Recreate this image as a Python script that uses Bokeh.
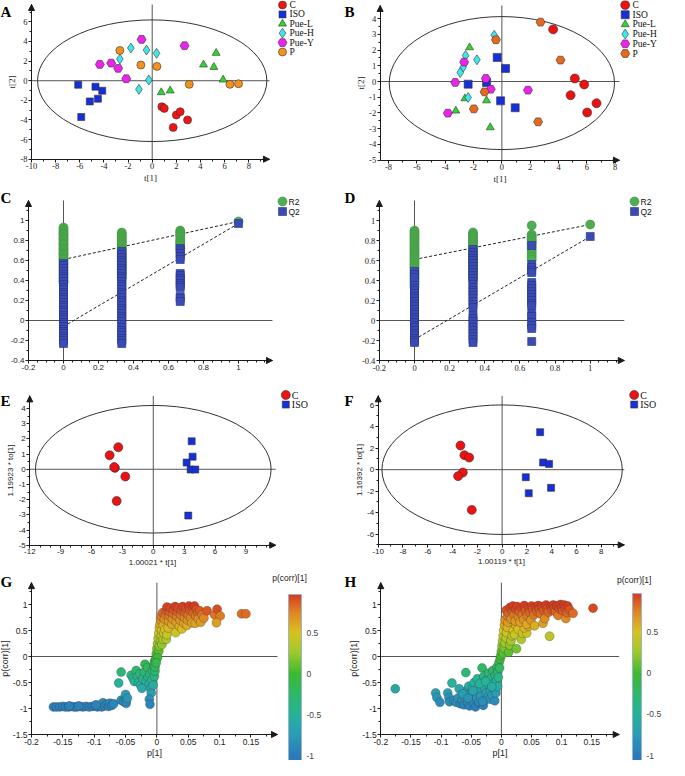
import numpy as np
from bokeh.plotting import figure
from bokeh.models import (Range1d, Arrow, NormalHead, Label,
                          FixedTicker, CustomJSTickFormatter, ColorBar, LinearColorMapper,
                          ColumnDataSource)
from bokeh.core.properties import value
from bokeh.layouts import row, column
from bokeh.embed import file_html
from bokeh.resources import INLINE

SERIF = "Liberation Serif"
SANS = "Liberation Sans"

# ---------------- data ----------------
group_names = ["C", "ISO", "Pue-L", "Pue-H", "Pue-Y", "P"]

# Panel A (PCA scores)
a_c_x = [0.80, 1.00, 2.00, 2.32, 2.93, 1.74]
a_c_y = [-2.65, -2.82, -3.50, -3.16, -4.00, -4.76]
a_iso_x = [-6.13, -4.70, -4.14, -4.50, -5.17, -5.88]
a_iso_y = [-0.41, -0.61, -1.02, -1.83, -2.11, -3.70]
a_puel_x = [0.75, 1.49, 4.25, 5.11, 5.30, 5.88]
a_puel_y = [-1.19, -1.02, 1.63, 1.39, 2.82, 0.10]
a_pueh_x = [-1.77, -0.47, 0.36, -2.68, -0.28, -1.10]
a_pueh_y = [3.33, 3.13, 2.79, 2.21, 0.07, -0.88]
a_puey_x = [-0.88, 2.68, -4.34, -3.40, -2.82, -2.15]
a_puey_y = [4.21, 3.57, 1.66, 1.80, 1.26, 0.20]
a_p_x = [-2.68, -0.94, 0.39, 3.07, 6.44, 7.15]
a_p_y = [3.09, 1.60, 1.46, -0.37, -0.37, -0.31]
a_ellipse = [0.0, 0.0, 19.0, 12.4]

# Panel B
b_c_x = [3.62, 5.15, 5.81, 4.85, 6.68, 6.02]
b_c_y = [3.31, 0.19, -0.19, -0.87, -1.38, -1.97]
b_iso_x = [-0.33, 0.26, -2.38, -1.08, -0.09, 0.94]
b_iso_y = [1.53, 0.83, -0.17, -0.06, -1.23, -1.67]
b_puel_x = [-2.28, -2.61, -1.08, -3.25, -0.82]
b_puel_y = [2.16, -1.08, -1.21, -1.86, -2.92]
b_pueh_x = [-0.54, -2.56, -1.76, -2.73, -2.94, -2.38]
b_pueh_y = [2.94, 1.65, 1.38, 0.91, 0.57, -1.02]
b_puey_x = [-2.66, -1.13, -3.29, -0.78, 1.84, -3.81]
b_puey_y = [1.23, 0.19, -0.06, -0.49, -0.55, -2.01]
b_p_x = [2.73, -0.42, 4.14, -1.22, -1.98, 2.56]
b_p_y = [3.77, 2.65, 1.36, -0.66, -1.74, -2.56]
b_ellipse = [0.0, -0.1, 15.9, 8.45]

# Panel C (permutation test)
perm_levels = [0.0, 0.333, 0.667, 1.0]
c_r2_0 = [0.93, 0.91, 0.89, 0.87, 0.86, 0.84, 0.82, 0.81, 0.79, 0.77, 0.76, 0.74, 0.72, 0.71, 0.69, 0.67,
          0.66, 0.64, 0.62, 0.61, 0.59, 0.57, 0.55, 0.53, 0.51, 0.49, 0.47, 0.45, 0.43, 0.41, 0.39, 0.38]
c_r2_1 = [0.88, 0.86, 0.84, 0.82, 0.80, 0.78, 0.76, 0.74, 0.72, 0.70, 0.68, 0.66, 0.64, 0.62, 0.60, 0.58,
          0.56, 0.54, 0.52, 0.50, 0.48, 0.46, 0.43]
c_r2_2 = [0.90, 0.88, 0.86, 0.84, 0.81, 0.79, 0.77, 0.75, 0.72]
c_r2_3 = [0.99]
c_q2_0 = [0.57, 0.55, 0.52, 0.49, 0.46, 0.44, 0.42, 0.39, 0.36, 0.33, 0.31, 0.28, 0.26, 0.23, 0.21, 0.18,
          0.15, 0.13, 0.10, 0.08, 0.05, 0.03, 0.01, -0.02, -0.04, -0.06, -0.09, -0.11, -0.13, -0.16, -0.18,
          -0.20, -0.23]
c_q2_1 = [0.69, 0.66, 0.63, 0.60, 0.58, 0.55, 0.52, 0.50, 0.47, 0.44, 0.42, 0.39, 0.36, 0.34, 0.31, 0.28,
          0.26, 0.23, 0.20, 0.18, 0.15, 0.12, 0.10, 0.07, 0.04, 0.02, -0.01, -0.04, -0.07, -0.10, -0.12,
          -0.15, -0.18, -0.20, -0.23]
c_q2_2 = [0.72, 0.70, 0.67, 0.64, 0.61, 0.47, 0.45, 0.42, 0.40, 0.37, 0.35, 0.33, 0.24, 0.22, 0.19]
c_q2_3 = [0.97]
c_line_x = [0.0, 1.0]
c_r2_line = [0.61, 0.99]
c_q2_line = [-0.06, 0.97]

# Panel D
d_r2_0 = [0.90, 0.88, 0.86, 0.84, 0.82, 0.80, 0.78, 0.76, 0.74, 0.72, 0.70, 0.68, 0.66, 0.64, 0.62, 0.60,
          0.58, 0.56, 0.54, 0.52, 0.50, 0.48, 0.46, 0.44, 0.42, 0.40, 0.38, 0.36, 0.33]
d_r2_1 = [0.88, 0.86, 0.84, 0.82, 0.80, 0.78, 0.76, 0.74, 0.72, 0.70, 0.68, 0.66, 0.64, 0.62, 0.60, 0.58,
          0.56, 0.54, 0.52, 0.50, 0.48, 0.46, 0.44, 0.41]
d_r2_2 = [0.95, 0.86, 0.84, 0.82, 0.80, 0.78, 0.76, 0.73, 0.70, 0.67, 0.64, 0.61]
d_r2_3 = [0.96]
d_q2_0 = [0.49, 0.46, 0.43, 0.35, 0.32, 0.30, 0.27, 0.24, 0.22, 0.19, 0.16, 0.14, 0.11, 0.08, 0.06, 0.03,
          0.01, -0.02, -0.05, -0.07, -0.10, -0.13, -0.15, -0.18, -0.20, -0.22]
d_q2_1 = [0.71, 0.68, 0.65, 0.62, 0.60, 0.57, 0.54, 0.51, 0.48, 0.45, 0.42, 0.39, 0.36, 0.33, 0.30, 0.28,
          0.25, 0.22, 0.19, 0.16, 0.13, 0.05, 0.02, -0.01, -0.04, -0.07, -0.10, -0.13, -0.16, -0.19, -0.22]
d_q2_2 = [0.75, 0.56, 0.53, 0.50, 0.48, 0.38, 0.35, 0.32, 0.29, 0.26, 0.23, 0.20, 0.17, 0.15, 0.07, 0.04,
          -0.02, -0.05, -0.08, -0.21]
d_q2_3 = [0.84]
d_r2_line = [0.61, 0.96]
d_q2_line = [-0.19, 0.84]

# Panel E (OPLS-DA scores)
e_c_x = [-3.40, -4.24, -3.73, -3.80, -2.72, -3.56]
e_c_y = [1.45, 0.92, 0.09, 0.14, -0.48, -2.09]
e_iso_x = [3.73, 3.82, 3.24, 3.63, 4.08, 3.40]
e_iso_y = [1.84, 0.83, 0.44, -0.02, -0.02, -3.05]
e_ellipse = [0.0, 0.0, 22.9, 8.4]

# Panel F
f_c_x = [-3.36, -3.04, -2.66, -3.17, -3.55, -2.45]
f_c_y = [2.25, 1.35, 1.13, -0.26, -0.60, -3.74]
f_iso_x = [3.07, 3.31, 3.79, 1.91, 2.15, 3.95]
f_iso_y = [3.49, 0.67, 0.54, -0.70, -2.19, -1.69]
f_ellipse = [0.0, 0.0, 19.4, 12.05]

# Panel G (S-plot)
g_p1 = [
    -0.165, -0.160, -0.155, -0.150, -0.146, -0.141, -0.137, -0.132, -0.128, -0.123, -0.118, -0.113, -0.108, -0.103,
    -0.099, -0.095, -0.091, -0.088, -0.086, -0.083, -0.080, -0.077, -0.075, -0.072, -0.069, -0.125, -0.140, -0.097,
    -0.061, -0.057, -0.057, -0.053, -0.050, -0.049, -0.049, -0.047,
    -0.041, -0.038, -0.036, -0.033, -0.031, -0.029, -0.027, -0.026, -0.024, -0.022, -0.020, -0.019, -0.017, -0.015,
    -0.014, -0.012, -0.011, -0.010, -0.009, -0.012, -0.011, -0.008, -0.007, -0.006, -0.005, -0.004, -0.004, -0.003,
    -0.002, -0.003,
    -0.001, 0.000, 0.001, 0.002, 0.003, 0.004, 0.005, 0.006, 0.003, 0.004, 0.006, 0.007, 0.008, 0.010, 0.008,
    0.010, 0.011, 0.013, 0.015, 0.016, 0.018, 0.007, 0.009, 0.001, -0.001,
    0.012, 0.014, 0.015, 0.016, 0.019, 0.020, 0.021, 0.022, 0.024, 0.025, 0.026, 0.027, 0.029, 0.030, 0.031, 0.032,
    0.033, 0.034, 0.036, 0.037, 0.038, 0.039, 0.040, 0.041, 0.043, 0.044, 0.045, 0.046, 0.048, 0.049, 0.050, 0.051,
    0.053, 0.054, 0.056, 0.057, 0.058, 0.060, 0.061, 0.062, 0.063, 0.065, 0.066, 0.068, 0.070, 0.072, 0.075, 0.080,
    0.092, 0.096, 0.101, 0.095, 0.135, 0.142]
g_pcorr = [
    -0.97, -0.97, -0.97, -0.96, -0.97, -0.97, -0.96, -0.97, -0.97, -0.96, -0.97, -0.96, -0.97, -0.96,
    -0.95, -0.97, -0.94, -0.97, -0.89, -0.95, -0.92, -0.96, -0.90, -0.94, -0.91, -0.95, -0.95, -0.93,
    -0.51, -0.30, -0.84, -0.87, -0.73, -0.85, -0.90, -0.80,
    -0.36, -0.42, -0.48, -0.27, -0.39, -0.50, -0.33, -0.55, -0.61, -0.43, -0.30, -0.15, -0.47, -0.21,
    -0.40, -0.52, -0.34, -0.62, -0.70, -0.82, -0.92, -0.45, -0.27, -0.55, -0.18, -0.38, -0.10, -0.28,
    -0.05, -0.20,
    0.05, 0.15, 0.25, 0.35, 0.45, 0.55, 0.62, 0.70, 0.10, 0.20, 0.30, 0.40, 0.50, 0.60, 0.23,
    0.33, 0.45, 0.52, 0.33, 0.42, 0.55, 0.77, 0.84, -0.02, -0.12,
    0.72, 0.80, 0.88, 0.95, 0.68, 0.78, 0.86, 0.93, 0.62, 0.72, 0.82, 0.90, 0.96, 0.46, 0.66, 0.77,
    0.86, 0.93, 0.58, 0.70, 0.80, 0.89, 0.53, 0.96, 0.64, 0.75, 0.85, 0.92, 0.60, 0.70, 0.80, 0.97,
    0.88, 0.74, 0.65, 0.93, 0.84, 0.97, 0.64, 0.78, 0.90, 0.84, 0.72, 0.88, 0.66, 0.80, 0.74, 0.88,
    0.80, 0.91, 0.78, 0.65, 0.82, 0.82]

# Panel H (S-plot)
h_p1 = [
    -0.176, -0.109, -0.107, -0.102, -0.089, -0.087, -0.082, -0.086, -0.079, -0.075, -0.072, -0.068, -0.065, -0.062,
    -0.060, -0.059, -0.058, -0.056, -0.054, -0.053,
    -0.051, -0.050, -0.048, -0.046, -0.045, -0.043, -0.042, -0.041, -0.040, -0.038, -0.037, -0.035, -0.034, -0.032,
    -0.032, -0.030, -0.029, -0.028, -0.027, -0.025,
    -0.024, -0.022, -0.021, -0.020, -0.019, -0.018, -0.017, -0.015, -0.014, -0.013, -0.012, -0.011, -0.010, -0.009,
    -0.008, -0.007, -0.006, -0.006, -0.005, -0.004, -0.003, -0.002,
    -0.070, -0.064, -0.047, -0.036, -0.026, -0.016, -0.031, -0.055,
    -0.001, 0.000, 0.001, 0.002, 0.003, 0.004, 0.005, 0.006, 0.003, 0.005, 0.006, 0.008, 0.009, 0.010, 0.011,
    0.012, 0.014, 0.016, 0.018, 0.020, 0.022, 0.025, 0.024, 0.028, 0.033, 0.035, 0.042, 0.038, 0.045,
    0.008, 0.010, 0.012, 0.014, 0.016, 0.018, 0.019, 0.021, 0.023, 0.024,
    0.026, 0.028, 0.030, 0.031, 0.033, 0.035, 0.037, 0.038, 0.040, 0.042,
    0.043, 0.045, 0.047, 0.049, 0.050, 0.052, 0.054, 0.055, 0.057, 0.059,
    0.061, 0.063, 0.065, 0.067, 0.069, 0.070, 0.072, 0.074, 0.076, 0.078,
    0.080, 0.082, 0.084, 0.086, 0.088, 0.090, 0.092, 0.094, 0.096, 0.098,
    0.100, 0.102, 0.104, 0.106, 0.107, 0.109, 0.110, 0.113, 0.119, 0.152]
h_pcorr = [
    -0.62, -0.70, -0.79, -0.88, -0.70, -0.79, -0.51, -0.87, -0.84, -0.88, -0.80, -0.91, -0.85, -0.93,
    -0.78, -0.31, -0.66, -0.88, -0.57, -0.95,
    -0.72, -0.82, -0.61, -0.90, -0.50, -0.97, -0.70, -0.80, -0.43, -0.58, -0.88, -0.66, -0.76, -0.22,
    -0.50, -0.94, -0.38, -0.84, -0.60, -0.70,
    -0.45, -0.78, -0.32, -0.55, -0.82, -0.66, -0.42, -0.74, -0.27, -0.52, -0.62, -0.85, -0.36, -0.70,
    -0.46, -0.20, -0.58, -0.30, -0.40, -0.12, -0.22, -0.05,
    -0.62, -0.72, -0.66, -0.52, -0.48, -0.58, -0.86, -0.80,
    0.02, 0.10, 0.20, 0.30, 0.40, 0.50, 0.60, 0.70, 0.06, 0.16, 0.26, 0.36, 0.46, 0.56, 0.66,
    0.08, 0.22, 0.30, 0.40, 0.50, 0.42, 0.15, 0.60, 0.52, 0.33, 0.45, 0.45, 0.55, 0.58,
    0.89, 0.78, 0.84, 0.94, 0.72, 0.88, 0.97, 0.80, 0.68, 0.91,
    0.96, 0.76, 0.86, 0.66, 0.94, 0.80, 0.71, 0.98, 0.88, 0.62,
    0.78, 0.94, 0.84, 0.70, 0.97, 0.90, 0.80, 0.59, 0.95, 0.86,
    0.98, 0.91, 0.82, 0.96, 0.64, 0.88, 0.73, 0.99, 0.92, 0.85,
    0.39, 0.96, 0.90, 0.99, 0.93, 0.86, 0.97, 0.79, 0.92, 1.00,
    0.95, 0.88, 0.99, 0.93, 0.73, 0.84, 0.97, 0.90, 0.83, 0.93]

# ticks
a_xticks = [-10, -8, -6, -4, -2, 0, 2, 4, 6, 8]
a_yticks = [-8, -6, -4, -2, 0, 2, 4, 6]
b_xticks = [-8, -6, -4, -2, 0, 2, 4, 6, 8]
b_yticks = [-5, -4, -3, -2, -1, 0, 1, 2, 3, 4]
cd_xticks = [-0.2, 0, 0.2, 0.4, 0.6, 0.8, 1]
cd_yticks = [-0.4, -0.2, 0, 0.2, 0.4, 0.6, 0.8, 1]
e_xticks = [-12, -9, -6, -3, 0, 3, 6, 9]
e_yticks = [-5, -4, -3, -2, -1, 0, 1, 2, 3, 4]
f_xticks = [-10, -8, -6, -4, -2, 0, 2, 4, 6, 8]
f_yticks = [-6, -4, -2, 0, 2, 4, 6]
gh_xticks = [-0.2, -0.15, -0.1, -0.05, 0, 0.05, 0.1, 0.15]
gh_yticks = [-1.5, -1, -0.5, 0, 0.5, 1]
cb_ticks = [-1, -0.5, 0, 0.5]

# ---------------- helpers ----------------
AX = "#1a1a1a"
FMT = "return String(Math.round(tick * 1000) / 1000);"


def minor(lo, hi, step):
    return [round(v, 4) for v in np.arange(lo, hi + step / 2, step)]


class Panel:
    """A figure whose frame fills the whole figure; axes are pinned with fixed_location."""

    def __init__(self, fx, fy, W, H, u0, px0, sx, v0, py0, sy, xb, yb, xt, yt, xm, ym,
                 font, fsize, xlabel=None, ylabel=None, lfont=None, lsize="9px"):
        self.u0, self.px0, self.sx = u0, px0, sx
        self.v0, self.py0, self.sy = v0, py0, sy
        self.fx, self.fy, self.W, self.H = fx, fy, W, H
        xr = (self.X(fx), self.X(fx + W))
        yr = (self.Y(fy + H), self.Y(fy))
        p = figure(frame_width=W, frame_height=H, min_border=0,
                   x_range=Range1d(*xr), y_range=Range1d(*yr),
                   tools="", toolbar_location=None, output_backend="svg")
        p.outline_line_color = None
        p.xgrid.visible = False
        p.ygrid.visible = False
        p.xaxis.ticker = FixedTicker(ticks=xt, minor_ticks=xm)
        p.yaxis.ticker = FixedTicker(ticks=yt, minor_ticks=ym)
        p.xaxis.fixed_location = yb[0]
        p.yaxis.fixed_location = xb[0]
        p.xaxis.bounds = xb
        p.yaxis.bounds = yb
        for ax in (p.xaxis[0], p.yaxis[0]):
            ax.formatter = CustomJSTickFormatter(code=FMT)
            ax.axis_line_color = AX
            ax.major_tick_line_color = AX
            ax.minor_tick_line_color = AX
            ax.major_tick_out = 3
            ax.major_tick_in = 0
            ax.minor_tick_out = 2
            ax.minor_tick_in = 0
            ax.major_label_text_font = font
            ax.major_label_text_font_size = fsize
            ax.major_label_text_color = "#222222"
            ax.major_label_standoff = 1
            ax.axis_label_text_font = lfont or font
            ax.axis_label_text_font_size = lsize
            ax.axis_label_text_font_style = "normal"
            ax.axis_label_text_color = "#222222"
            ax.axis_label_standoff = 0
        if xlabel:
            p.xaxis.axis_label = xlabel
        if ylabel:
            p.yaxis.axis_label = ylabel
        # reference lines through the origin, limited to the axis bounds
        p.segment(x0=[xb[0]], y0=[0], x1=[xb[1]], y1=[0], line_color="#555555", line_width=1)
        p.segment(x0=[0], y0=[yb[0]], x1=[0], y1=[yb[1]], line_color="#555555", line_width=1)
        span_x = xb[1] - xb[0]
        span_y = yb[1] - yb[0]
        p.add_layout(Arrow(end=NormalHead(size=6, fill_color=AX, line_color=AX, line_width=1),
                           x_start=xb[1] - span_x * 0.03, y_start=yb[0], x_end=xb[1], y_end=yb[0],
                           line_color=AX, line_width=1))
        p.add_layout(Arrow(end=NormalHead(size=6, fill_color=AX, line_color=AX, line_width=1),
                           x_start=xb[0], y_start=yb[1] - span_y * 0.03, x_end=xb[0], y_end=yb[1],
                           line_color=AX, line_width=1))
        self.p = p

    def X(self, px):
        return self.u0 + (px - self.px0) / self.sx

    def Y(self, py):
        return self.v0 - (py - self.py0) / self.sy

    def letter(self, txt, px, py):
        self.p.add_layout(Label(x=self.X(px), y=self.Y(py), text=txt, text_font=SERIF,
                                text_font_size="15px", text_font_style="bold",
                                text_color="black", text_baseline="alphabetic"))

    def legend(self, entries, cx, cy0, pitch, tx, font, size):
        """Key drawn in the plot's own coordinates: entries are (label, marker, colour, size, edge)."""
        ys = [self.Y(cy0 + i * pitch) for i in range(len(entries))]
        for (lab, mk, col, sz, edge), y in zip(entries, ys):
            self.p.scatter([self.X(cx)], [y], marker=mk, size=sz, fill_color=col,
                           line_color=edge, line_width=0.6)
        self.p.text(x=[self.X(tx)] * len(entries), y=ys, text=[e[0] for e in entries],
                    text_font=value(font), text_font_size=value(size),
                    text_baseline="middle", text_align="left", text_color="#111111")


# ---------------- Panel A ----------------
A = Panel(8, 8, 332, 186, -10, 39, 12.07, -8, 166.7, 9.81, (-10, 9.72), (-8, 7.77),
          a_xticks, a_yticks, minor(-10, 9, 1), minor(-8, 7, 1), SERIF, "8.5px", "t[1]", "t[2]")
A.p.ellipse(x=[a_ellipse[0]], y=[a_ellipse[1]], width=[a_ellipse[2]], height=[a_ellipse[3]],
            fill_color=None, line_color="#333333", line_width=1)
style_a = [("circle", "#F21515", 8), ("square", "#1530DA", 7), ("triangle", "#2ED62E", 8),
           ("diamond", "#3FE8E8", 10), ("hex", "#EE22EE", 9), ("circle", "#F5921E", 8)]
a_data = [(a_c_x, a_c_y), (a_iso_x, a_iso_y), (a_puel_x, a_puel_y), (a_pueh_x, a_pueh_y),
          (a_puey_x, a_puey_y), (a_p_x, a_p_y)]
for name, (xs, ys), (mk, col, sz) in zip(group_names, a_data, style_a):
    A.p.scatter(xs, ys, marker=mk, size=sz, fill_color=col, line_color="#333333", line_width=0.6)
A.legend([(n, mk, col, sz, "#333333") for n, (mk, col, sz) in zip(group_names, style_a)],
         290, 12.5, 9.4, 297, SERIF, "9.5px")
A.letter("A", 8, 19)

# ---------------- Panel B ----------------
B = Panel(340, 8, 337, 186, -8, 396, 14.17, -5, 167.7, 15.74, (-8.59, 8.3), (-5, 4.83),
          b_xticks, b_yticks, minor(-8, 8, 1), minor(-5, 4.5, 0.5), SERIF, "8.5px", "t[1]", "t[2]")
B.p.ellipse(x=[b_ellipse[0]], y=[b_ellipse[1]], width=[b_ellipse[2]], height=[b_ellipse[3]],
            fill_color=None, line_color="#333333", line_width=1)
style_b = [("circle", "#EE1111", 9), ("square", "#1530DA", 8), ("triangle", "#2ED62E", 8),
           ("diamond", "#3FE8E8", 10), ("hex", "#EE22EE", 9), ("hex", "#E8691E", 9)]
b_data = [(b_c_x, b_c_y), (b_iso_x, b_iso_y), (b_puel_x, b_puel_y), (b_pueh_x, b_pueh_y),
          (b_puey_x, b_puey_y), (b_p_x, b_p_y)]
for name, (xs, ys), (mk, col, sz) in zip(group_names, b_data, style_b):
    B.p.scatter(xs, ys, marker=mk, size=sz, fill_color=col, line_color="#333333", line_width=0.6)
B.legend([(n, mk, col, sz, "#333333") for n, (mk, col, sz) in zip(group_names, style_b)],
         632.7, 12.5, 9.7, 640, SERIF, "9.5px")
B.letter("B", 352, 19)


# ---------------- Panels C, D ----------------
def perm_panel(fx, W, px0, sx, font, fsize, r2_cols, q2_cols, r2_line, q2_line, let, leg_cx):
    P = Panel(fx, 194, W, 192, 0, px0, sx, 0, 328.0, 100.0, (-0.2, 1.194), (-0.4, 1.2),
              cd_xticks, cd_yticks, minor(-0.2, 1.15, 0.05), minor(-0.4, 1.1, 0.1), font, fsize)
    rx, ry, qx, qy = [], [], [], []
    for lvl, col in zip(perm_levels, r2_cols):
        rx += [lvl] * len(col)
        ry += col
    for lvl, col in zip(perm_levels, q2_cols):
        qx += [lvl] * len(col)
        qy += col
    P.p.line(c_line_x, r2_line, line_color="#222222", line_width=1, line_dash="3 2")
    P.p.line(c_line_x, q2_line, line_color="#222222", line_width=1, line_dash="3 2")
    P.p.scatter(rx, ry, marker="circle", size=9, fill_color="#4FAF50", line_color="#3C8C3E",
                line_width=0.6)
    P.p.scatter(qx, qy, marker="square", size=8, fill_color="#3A4CB4", line_color="#25338A",
                line_width=0.6)
    P.legend([("R2", "circle", "#4FAF50", 9, "#3C8C3E"), ("Q2", "square", "#3A4CB4", 8, "#25338A")],
             leg_cx, 209, 10, leg_cx + 6, SANS, "8.5px")
    P.letter(let, fx if fx < 100 else 352, 205)
    return P


C = perm_panel(8, 332, 71, 175.0, SANS, "8px", [c_r2_0, c_r2_1, c_r2_2, c_r2_3],
               [c_q2_0, c_q2_1, c_q2_2, c_q2_3], c_r2_line, c_q2_line, "C", 290)
D = perm_panel(340, 337, 422, 175.7, SERIF, "8.5px", [d_r2_0, d_r2_1, d_r2_2, d_r2_3],
               [d_q2_0, d_q2_1, d_q2_2, d_q2_3], d_r2_line, d_q2_line, "D", 642)


# ---------------- Panels E, F ----------------
def opls_panel(fx, W, u0, px0, sx, v0, py0, sy, xb, yb, xt, yt, xm, ym, ell, cx, cy, ix, iy,
               xl, yl, let, leg_cx):
    P = Panel(fx, 386, W, 192, u0, px0, sx, v0, py0, sy, xb, yb, xt, yt, xm, ym, SANS, "8px",
              xl, yl, lfont=SANS, lsize="8px")
    P.p.ellipse(x=[ell[0]], y=[ell[1]], width=[ell[2]], height=[ell[3]], fill_color=None,
                line_color="#333333", line_width=1)
    P.p.scatter(cx, cy, marker="circle", size=9, fill_color="#EE1111", line_color="#333333",
                line_width=0.6)
    P.p.scatter(ix, iy, marker="square", size=7, fill_color="#1530DA", line_color="#333333",
                line_width=0.6)
    P.legend([("C", "circle", "#EE1111", 9, "#333333"), ("ISO", "square", "#1530DA", 7, "#333333")],
             leg_cx, 402.5, 9.6, leg_cx + 6, SERIF, "10px")
    P.letter(let, fx if fx < 100 else 352, 408)
    return P


E = opls_panel(8, 332, -12, 37.3, 10.29, -5, 552.7, 15.19, (-12, 11.9), (-5, 4.83),
               e_xticks, e_yticks, minor(-12, 11, 1), minor(-5, 4.5, 0.5), e_ellipse,
               e_c_x, e_c_y, e_iso_x, e_iso_y, "1.00021 * t[1]", "1.19923 * to[1]", "E", 293.3)
F = opls_panel(340, 337, -10, 385.7, 12.39, 0, 477.2, 10.75, (-10, 9.86), (-7, 6.87),
               f_xticks, f_yticks, minor(-10, 9, 1), minor(-7, 6, 1), f_ellipse,
               f_c_x, f_c_y, f_iso_x, f_iso_y, "1.00119 * t[1]", "1.16392 * to[1]", "F", 641.7)

# ---------------- Panels G, H ----------------
stops = [-1.0, -0.75, -0.5, -0.25, 0.0, 0.25, 0.5, 0.75, 1.0]
stop_cols = ["#2B7BBA", "#2A9BB6", "#25B49B", "#2EB868", "#3DBA2F", "#9AC92B", "#D8C31F", "#E08722",
             "#D7301F"]
rgb = np.array([[int(c[i:i + 2], 16) for i in (1, 3, 5)] for c in stop_cols])


def make_palette(lo, hi):
    return ["#%02x%02x%02x" % tuple(int(round(np.interp(v, stops, rgb[:, k]))) for k in range(3))
            for v in np.linspace(lo, hi, 256)]


CB_LOW = -1.06
palette = make_palette(-1, 0.97)
palette_bar = make_palette(CB_LOW, 0.97)


def splot(fx, W, px0, sx, xs, ys, let, cb_left, cb_w, cb_h, title_x, title_y, x_end):
    P = Panel(fx, 578, W, 190, -0.2, px0, sx, -1.5, 742.0, 52.0, (-0.2, x_end), (-1.5, 1.42),
              gh_xticks, gh_yticks, minor(-0.2, 0.175, 0.025), minor(-1.5, 1.25, 0.25), SANS,
              "8.5px", "p[1]", "p(corr)[1]", lfont=SANS, lsize="9px")
    mapper = LinearColorMapper(palette=palette, low=-1, high=0.97)
    bar_mapper = LinearColorMapper(palette=palette_bar, low=CB_LOW, high=0.97)
    src = ColumnDataSource(dict(x=xs, y=ys))
    P.p.scatter("x", "y", source=src, marker="circle", size=9,
                fill_color={"field": "y", "transform": mapper},
                line_color="#3a3a3a", line_alpha=0.45, line_width=0.7)
    cb = ColorBar(color_mapper=bar_mapper, location=(cb_left - fx + 6, 0),
                  width=cb_w, height=cb_h,
                  padding=0, margin=0, ticker=FixedTicker(ticks=cb_ticks),
                  formatter=CustomJSTickFormatter(code=FMT),
                  major_label_text_font=SANS, major_label_text_font_size="8.5px",
                  label_standoff=5, major_tick_line_color=None, minor_tick_line_color=None,
                  bar_line_color="#9fb3c8", border_line_color=None, background_fill_alpha=0)
    P.p.add_layout(cb)
    P.p.add_layout(Label(x=P.X(title_x), y=P.Y(title_y), text="p(corr)[1]",
                         text_font=SANS, text_font_size="8.5px", text_align="center",
                         text_baseline="middle", text_color="#222222"))
    P.letter(let, fx if fx < 100 else 352, 589)
    return P


G = splot(8, 332, 39.0, 627.0, g_p1, g_pcorr, "G", 290, 13, 166, 297, 585, 0.1923)
H = splot(340, 337, 388.3, 602.9, h_p1, h_pcorr, "H", 634, 9, 167, 641.7, 587, 0.1954)

layout = column(row(A.p, B.p), row(C.p, D.p), row(E.p, F.p), row(G.p, H.p))
open("out.html", "w").write(file_html(layout, INLINE))
